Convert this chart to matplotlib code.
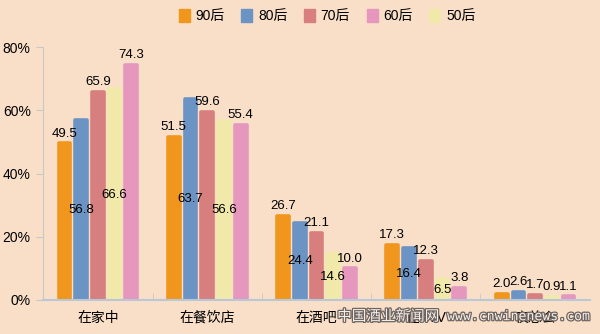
import matplotlib.pyplot as plt
import matplotlib.patheffects as pe
import numpy as np

plt.rcParams['font.family'] = ['Liberation Sans', 'Noto Sans CJK SC', 'DejaVu Sans']

categories = ["在家中", "在餐饮店", "在酒吧", "在KTV", "夜总会"]
series = ["90后", "80后", "70后", "60后", "50后"]
# bar order inside a group: 90后, 80后, 70后, 50后, 60后
v90 = [49.5, 51.5, 26.7, 17.3, 2.0]
v80 = [56.8, 63.7, 24.4, 16.4, 2.6]
v70 = [65.9, 59.6, 21.1, 12.3, 1.7]
v60 = [74.3, 55.4, 10.0, 3.8, 1.1]
v50 = [66.6, 56.6, 14.6, 6.5, 0.9]
colors = {"90后": "#F0961C", "80后": "#6B93C3", "70后": "#D67F7E",
          "60后": "#E597BE", "50后": "#F1E9A9"}
# which labels sit inside the bar (middle) instead of on top
inside = {"80后": True, "50后": True}

bg = "#F9DFC8"
fig = plt.figure(figsize=(6, 3.34), dpi=100, facecolor=bg)
ax = fig.add_axes([0.072, 0.102, 0.911, 0.757], facecolor=bg)

x = np.arange(len(categories))
w = 0.153
order = [("90后", v90), ("80后", v80), ("70后", v70), ("50后", v50), ("60后", v60)]
for i, (name, vals) in enumerate(order):
    xs = x + (i - 2) * w
    ax.bar(xs, vals, width=w - 0.045, color=colors[name], edgecolor=colors[name],
           linewidth=2.6, joinstyle='round', zorder=2)
    for xi, v, ci in zip(xs, vals, range(len(vals))):
        if inside.get(name) and ci < 4:
            ax.text(xi, v / 2, f"{v:.1f}", ha='center', va='center', fontsize=9.5, zorder=4)
        else:
            ax.text(xi, v + 1.2, f"{v:.1f}", ha='center', va='bottom', fontsize=9.5, zorder=4)

ax.set_xlim(-0.5, 4.5)
ax.set_ylim(0, 80)
ax.set_yticks([0, 20, 40, 60, 80])
ax.set_yticklabels(["0%", "20%", "40%", "60%", "80%"], fontsize=10)
ax.set_xticks(x)
ax.set_xticklabels(categories, fontsize=10)
ax.tick_params(axis='x', length=0, pad=8)
ax.tick_params(axis='y', length=5, color="#C8C8C8", pad=4)
ax.set_xticks(np.arange(0.5, 4.5, 1), minor=True)
ax.tick_params(axis='x', which='minor', length=5, direction='in', color="#C8C8C8")
for s in ['top', 'right']:
    ax.spines[s].set_visible(False)
ax.spines['left'].set_color("#C8C8C8")
ax.spines['bottom'].set_color("#B8C8D8")
ax.spines['bottom'].set_linewidth(1.5)

handles = [plt.Rectangle((0, 0), 1, 1, color=colors[s]) for s in series]
fig.legend(handles, series, loc='center', bbox_to_anchor=(0.545, 0.953), ncol=5,
           frameon=False, fontsize=10, handlelength=0.8, handleheight=1.1,
           handletextpad=0.4, columnspacing=1.2)

wm = [pe.withStroke(linewidth=1.8, foreground="#6E6460")]
fig.text(0.562, 0.052, "中国酒业新闻网", fontsize=10.5, color="#F4EEE8",
         ha='left', va='center', path_effects=wm)
fig.text(0.745, 0.052, "www.cnwinenews.com", fontsize=9.5, color="#F4EEE8",
         family='DejaVu Sans Mono', ha='left', va='center', path_effects=wm)

fig.savefig("out.png", facecolor=bg)
